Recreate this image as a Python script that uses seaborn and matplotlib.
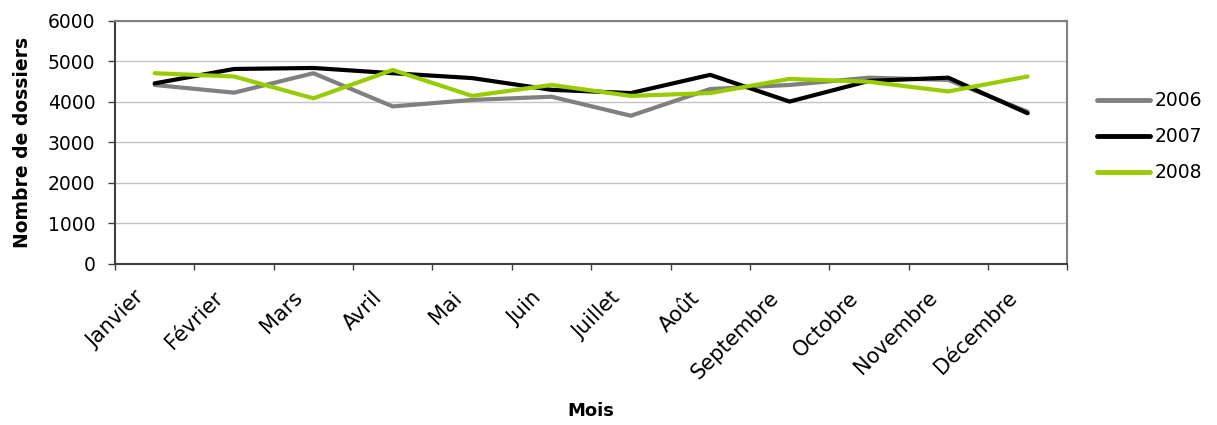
import matplotlib
matplotlib.use("Agg")
import matplotlib.pyplot as plt
import matplotlib.transforms as mtransforms
import seaborn as sns
import pandas as pd
import numpy as np

mois = ["Janvier", "Février", "Mars", "Avril", "Mai", "Juin", "Juillet",
        "Août", "Septembre", "Octobre", "Novembre", "Décembre"]
dossiers_2006 = [4420, 4230, 4710, 3890, 4050, 4130, 3660, 4320, 4420, 4600, 4545, 3760]
dossiers_2007 = [4460, 4815, 4840, 4710, 4590, 4300, 4220, 4670, 4010, 4520, 4600, 3720]
dossiers_2008 = [4710, 4630, 4090, 4790, 4150, 4420, 4150, 4220, 4570, 4500, 4260, 4630]
annees = ["2006", "2007", "2008"]
couleurs = ["#808080", "#000000", "#99CC00"]

frames = []
for annee, valeurs in zip(annees, [dossiers_2006, dossiers_2007, dossiers_2008]):
    frames.append(pd.DataFrame({"pos": np.arange(len(mois)), "Mois": mois,
                                "Dossiers": valeurs, "Année": annee}))
df = pd.concat(frames, ignore_index=True)

sns.set_theme(style="white")
plt.rcParams["font.family"] = ["DejaVu Sans"]
plt.rcParams.update({"text.color": "black", "axes.labelcolor": "black",
                     "xtick.labelcolor": "black", "ytick.labelcolor": "black"})

fig = plt.figure(figsize=(12.17, 4.25), dpi=100)
ax = fig.add_axes([0.0945, 0.379, 0.7825, 0.5716])

sns.lineplot(data=df, x="pos", y="Dossiers", hue="Année", palette=couleurs,
             linewidth=3.0, ax=ax, legend=True)

ax.set_xlim(-0.5, len(mois) - 0.5)
ax.set_ylim(0, 6000)
ax.set_yticks(range(0, 6001, 1000))
ax.yaxis.grid(True, color="#c4c4c4", linewidth=1.0)
ax.set_axisbelow(True)

# labels at category centres, tick marks between categories
ax.set_xticks(np.arange(len(mois)))
ax.set_xticklabels(mois, rotation=45, ha="right", va="top",
                   rotation_mode="anchor", fontsize=15)
ax.set_xticks(np.arange(-0.5, len(mois)), minor=True)
ax.tick_params(axis="x", which="major", bottom=False, length=0, pad=17)
ax.tick_params(axis="x", which="minor", bottom=True, length=4.5, width=1,
               color="#404040", direction="out")
ax.tick_params(axis="y", left=True, length=5, width=1, color="#404040",
               direction="out", labelsize=13.5, pad=9)

# shift the slanted month labels so their ends sit just left of each centre
shift = mtransforms.ScaledTranslation(-0.21, 0, fig.dpi_scale_trans)
for lab in ax.get_xticklabels():
    lab.set_transform(lab.get_transform() + shift)

for side in ["top", "right"]:
    ax.spines[side].set_color("#808080")
    ax.spines[side].set_linewidth(1.5)
for side in ["left", "bottom"]:
    ax.spines[side].set_color("#404040")
    ax.spines[side].set_linewidth(1.5)

ax.set_xlabel("Mois", fontsize=13, fontweight="bold")
ax.xaxis.set_label_coords(0.5, -0.57)
ax.set_ylabel("Nombre de dossiers", fontsize=13.5, fontweight="bold")
ax.yaxis.set_label_coords(-0.087, 0.5)

leg = ax.legend(loc="center left", bbox_to_anchor=(1.0315, 0.523), frameon=False,
                fontsize=13.5, handlelength=2.8, handletextpad=0.25,
                labelspacing=0.9, borderpad=0, borderaxespad=0)
for line in leg.get_lines():
    line.set_linewidth(3.5)

fig.savefig("out.png", dpi=100)
